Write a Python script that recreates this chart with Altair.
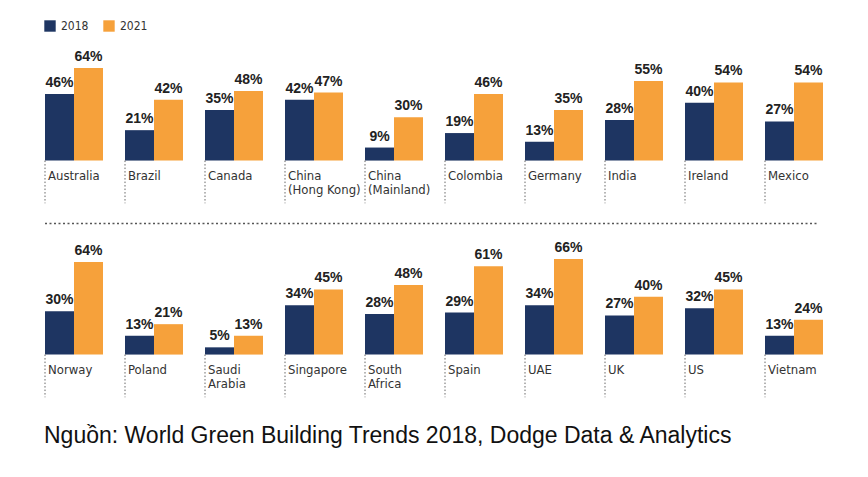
import altair as alt
import pandas as pd

countries = ["Australia", "Brazil", "Canada", "China\n(Hong Kong)", "China\n(Mainland)",
             "Colombia", "Germany", "India", "Ireland", "Mexico",
             "Norway", "Poland", "Saudi\nArabia", "Singapore", "South\nAfrica",
             "Spain", "UAE", "UK", "US", "Vietnam"]
v2018 = [46, 21, 35, 42, 9, 19, 13, 28, 40, 27, 30, 13, 5, 34, 28, 29, 34, 27, 32, 13]
v2021 = [64, 42, 48, 47, 30, 46, 35, 55, 54, 54, 64, 21, 13, 45, 48, 61, 66, 40, 45, 24]
rows = [1] * 10 + [2] * 10
years = ["2018", "2021"]
colors = ["#1e3562", "#f6a13b"]
source = "Nguồn: World Green Building Trends 2018, Dodge Data & Analytics"

recs = []
for c, a, b, r in zip(countries, v2018, v2021, rows):
    recs.append({"country": c, "year": "2018", "value": a, "row": r, "label": f"{a}%"})
    recs.append({"country": c, "year": "2021", "value": b, "row": r, "label": f"{b}%"})
df = pd.DataFrame(recs)
cdf = pd.DataFrame({"country": countries, "row": rows})

NARROW = "Liberation Sans Narrow, DejaVu Sans Condensed, sans-serif"
yscale = alt.Scale(domain=[-30, 75], nice=False, zero=False)


def make_row(r, with_sep=False, with_legend=False):
    order = [c for c, rr in zip(countries, rows) if rr == r]
    xs = alt.Scale(paddingInner=0.275, paddingOuter=0)
    base = alt.Chart(df).transform_filter(alt.datum.row == r)
    legend = None
    if with_legend:
        legend = alt.Legend(title=None, orient="none", legendX=-1, legendY=-32,
                            direction="horizontal", symbolType="square", symbolSize=130,
                            symbolStrokeWidth=0, labelFont=NARROW, labelFontSize=12,
                            labelColor="#333", labelOffset=5, columnPadding=14)
    bars = base.mark_bar().encode(
        x=alt.X("country:N", sort=order, scale=xs, axis=None),
        xOffset=alt.XOffset("year:N", sort=years),
        y=alt.Y("value:Q", scale=yscale, axis=None),
        y2=alt.datum(0),
        color=alt.Color("year:N", scale=alt.Scale(domain=years, range=colors), legend=legend),
    )
    vals = base.mark_text(font="Liberation Sans", fontWeight="bold", fontSize=14,
                          color="#222", baseline="bottom", dy=-4).encode(
        x=alt.X("country:N", sort=order, scale=xs, axis=None),
        xOffset=alt.XOffset("year:N", sort=years),
        y=alt.Y("value:Q", scale=yscale, axis=None),
        text="label:N",
    )
    cbase = alt.Chart(cdf).transform_filter(alt.datum.row == r)
    rules = cbase.mark_rule(color="#666", strokeDash=[1.5, 2], strokeWidth=1).encode(
        x=alt.X("country:N", sort=order, scale=xs, axis=None, bandPosition=0),
        y=alt.datum(0),
        y2=alt.datum(-29.5),
    )
    labels = cbase.mark_text(font=NARROW, fontSize=13, color="#333", align="left",
                             baseline="top", dx=3, dy=9, lineBreak="\n",
                             lineHeight=14).encode(
        x=alt.X("country:N", sort=order, scale=xs, axis=None, bandPosition=0),
        y=alt.datum(0),
        text="country:N",
    )
    layers = [bars, vals, rules, labels]
    if with_sep:
        sep = alt.Chart(cdf).transform_filter(alt.datum.row == r).transform_aggregate(
            n="count()").mark_rule(color="#555", strokeDash=[2, 2.5], strokeWidth=1.6).encode(
            x=alt.value(0), x2=alt.value(773), y=alt.datum(-43.5))
        layers.append(sep)
    return alt.layer(*layers).properties(width=778, height=152)


chart = alt.vconcat(
    make_row(1, with_sep=True, with_legend=True),
    make_row(2),
    spacing=42,
    bounds="flush",
).properties(
    title=alt.TitleParams(source, orient="bottom", anchor="start", fontSize=23,
                          font="Liberation Sans", fontWeight="normal", color="#111",
                          offset=27),
    padding={"left": 36, "top": 12, "right": 5, "bottom": 5},
    background="white",
).configure_view(stroke=None)

chart.save("out.html", embed_options={"renderer": "svg", "actions": False})
